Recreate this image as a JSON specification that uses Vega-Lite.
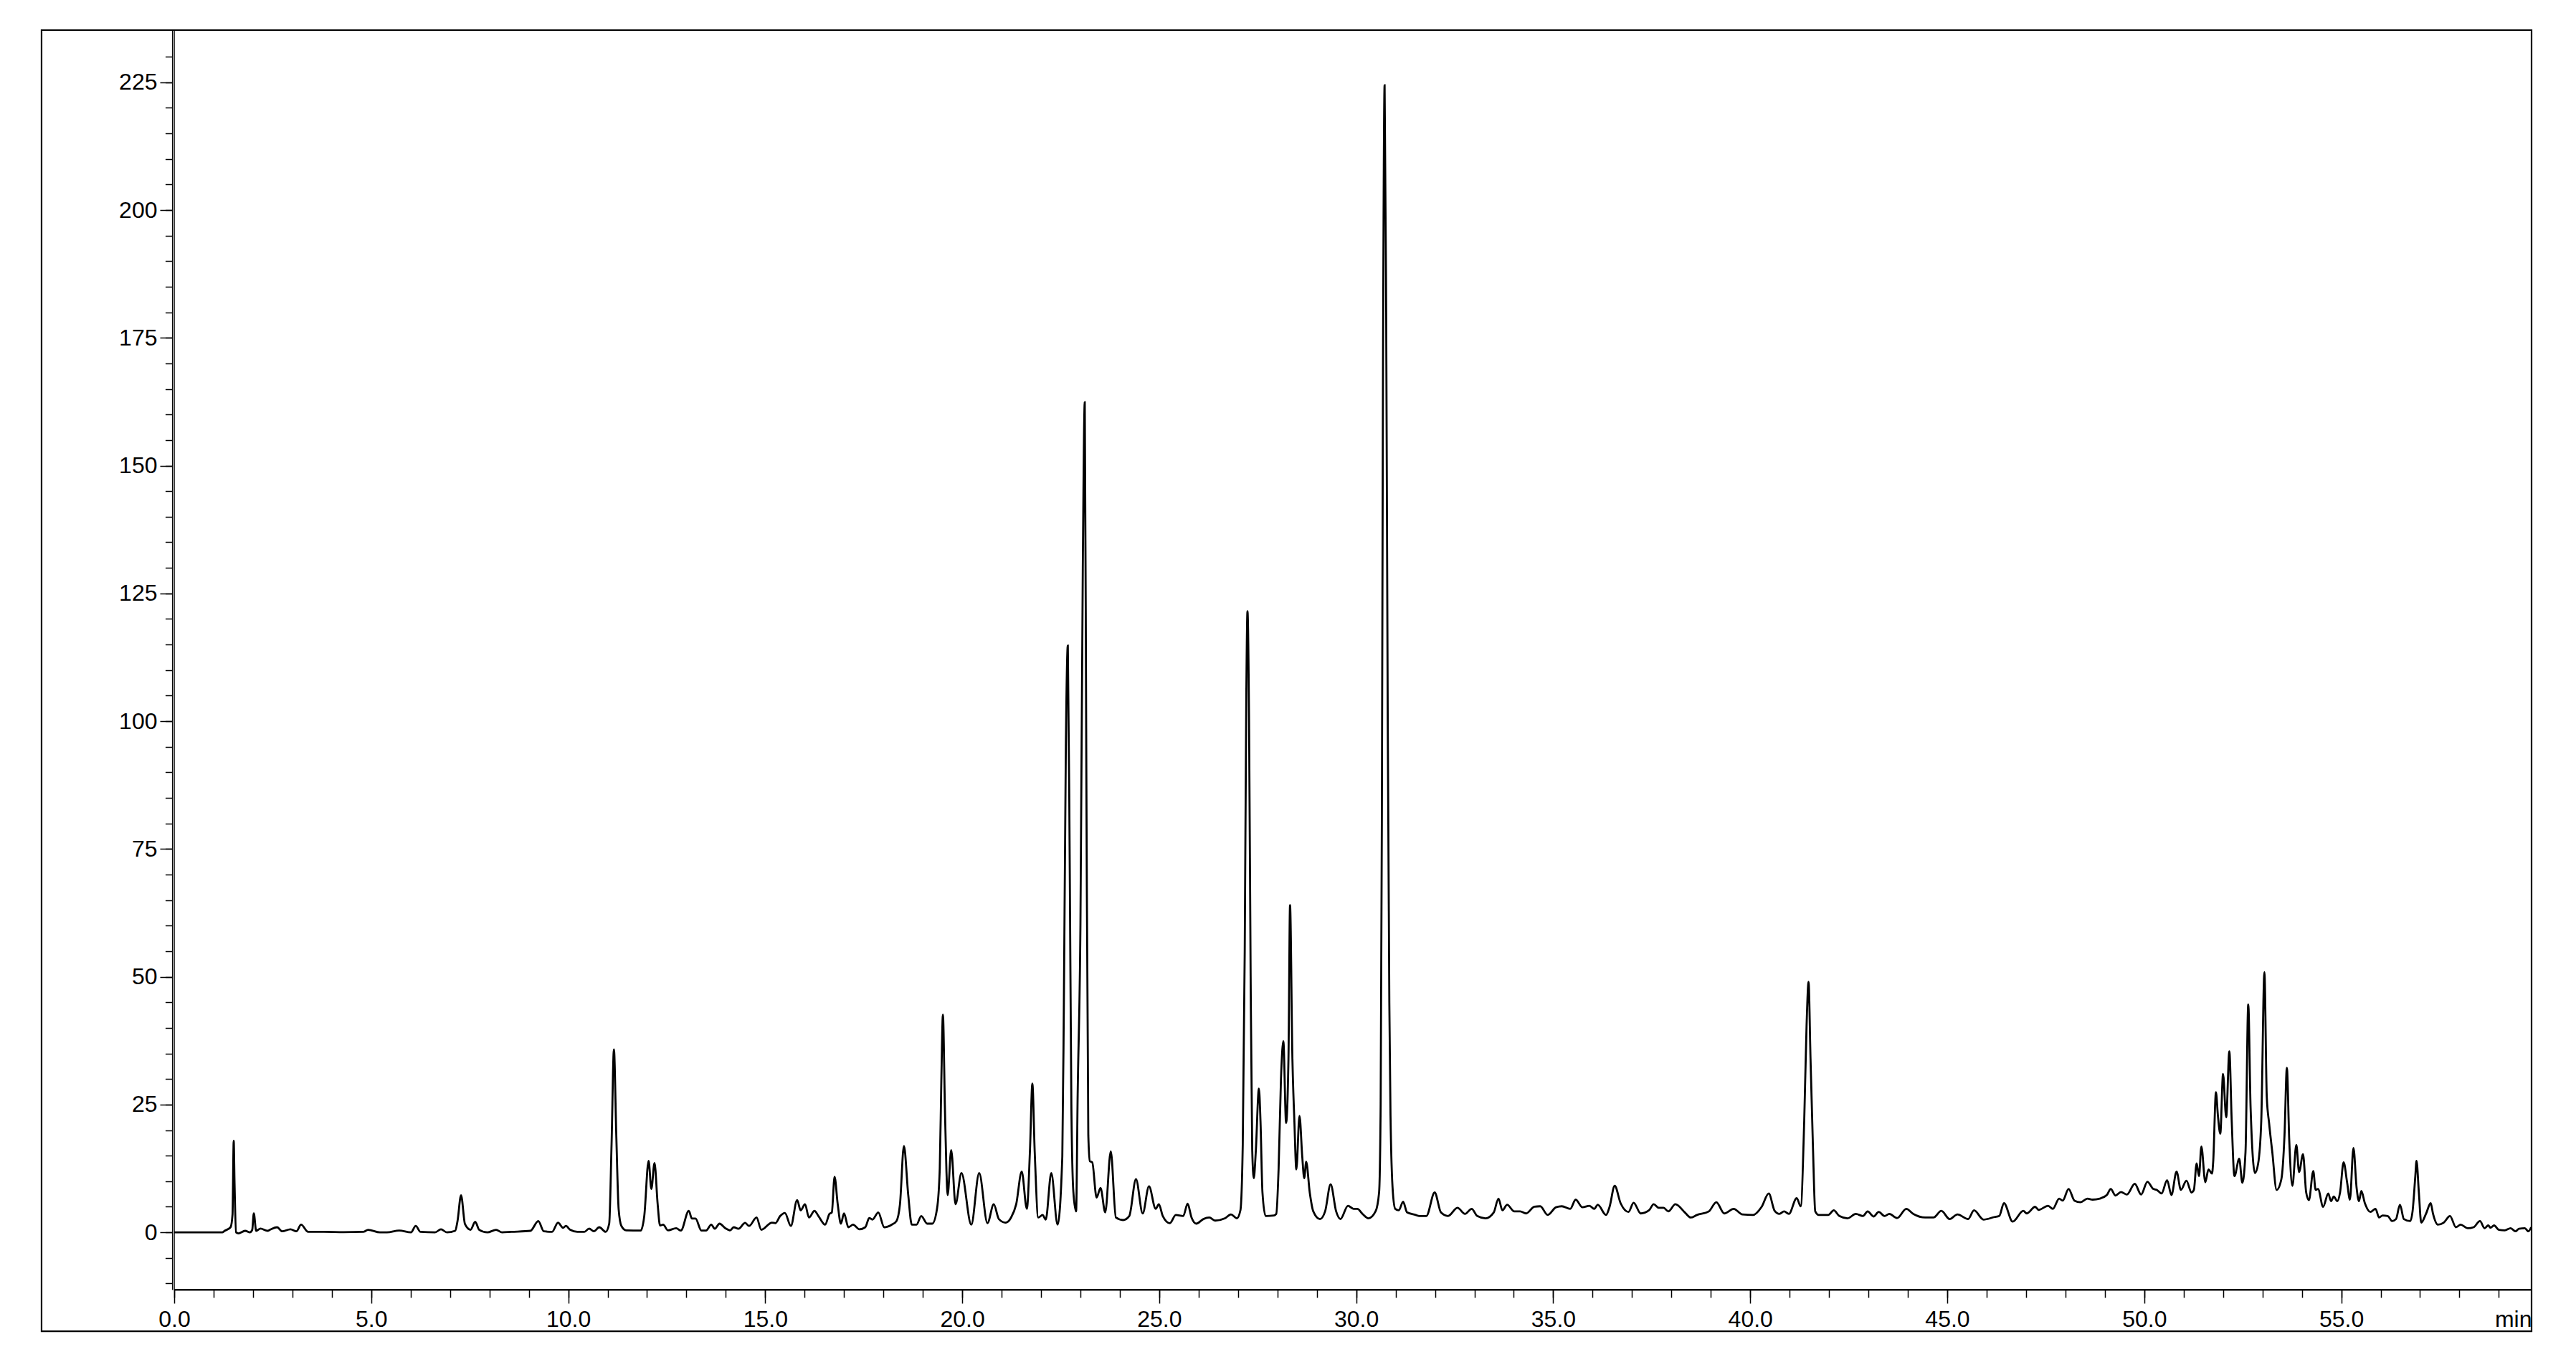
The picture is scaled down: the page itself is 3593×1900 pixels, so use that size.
{
  "$schema": "https://vega.github.io/schema/vega-lite/v6.json",
  "autosize": {"type": "none"},
  "width": 3288,
  "height": 1757,
  "padding": {"left": 243, "top": 42, "right": 62, "bottom": 101},
  "background": "white",
  "config": {
    "view": {"stroke": "black", "strokeWidth": 1.5},
    "axis": {"labelFont": "Liberation Sans", "titleFont": "Liberation Sans", "labelColor": "black", "tickColor": "black", "domainColor": "black", "grid": false, "labelFlush": false, "labelOverlap": false}
  },
  "resolve": {"axis": {"x": "independent", "y": "independent"}},
  "layer": [
    {
      "data": {"values": [{"frame": "outer"}]},
      "mark": {"type": "rect", "fillOpacity": 0, "stroke": "black", "strokeWidth": 2.2, "clip": false},
      "encoding": {
        "x": {"datum": -3.367, "type": "quantitative", "scale": {"domain": [0, 59.83], "nice": false, "zero": false},
          "axis": {"orient": "bottom", "values": [0,1,2,3,4,5,6,7,8,9,10,11,12,13,14,15,16,17,18,19,20,21,22,23,24,25,26,27,28,29,30,31,32,33,34,35,36,37,38,39,40,41,42,43,44,45,46,47,48,49,50,51,52,53,54,55,56,57,58,59], "labels": false, "domain": false, "tickSize": 11, "tickWidth": 1.5, "title": null}},
        "x2": {"datum": 59.83},
        "y": {"datum": -19.35, "type": "quantitative", "scale": {"domain": [-11.2, 235.2], "nice": false, "zero": false},
          "axis": {"orient": "left", "offset": 3, "values": [-10,-5,0,5,10,15,20,25,30,35,40,45,50,55,60,65,70,75,80,85,90,95,100,105,110,115,120,125,130,135,140,145,150,155,160,165,170,175,180,185,190,195,200,205,210,215,220,225,230], "labels": false, "domain": false, "tickSize": 9.6, "tickWidth": 1.5, "title": null}},
        "y2": {"datum": 235.2}
      }
    },
    {
      "data": {"values": [
{"t":0.00,"v":0},{"t":0.50,"v":0},{"t":1.00,"v":0},{"t":1.22,"v":0},{"t":1.28,"v":0.3},{"t":1.43,"v":1.0},{"t":1.48,"v":3.5},{"t":1.51,"v":17.9},{"t":1.53,"v":10},{"t":1.57,"v":0},{"t":1.63,"v":-0.2},{"t":1.80,"v":0.3},{"t":1.92,"v":0},{"t":1.98,"v":0.5},{"t":2.02,"v":3.7},{"t":2.08,"v":0.3},{"t":2.19,"v":0.75},{"t":2.37,"v":0.3},{"t":2.43,"v":0.5},{"t":2.61,"v":1.0},{"t":2.74,"v":0.2},{"t":2.95,"v":0.6},{"t":3.10,"v":0.2},{"t":3.22,"v":1.5},{"t":3.40,"v":0.1},{"t":3.80,"v":0.1},{"t":4.30,"v":0.05},{"t":4.80,"v":0.1},{"t":4.92,"v":0.5},{"t":5.22,"v":0},{"t":5.40,"v":0},{"t":5.71,"v":0.35},{"t":6.01,"v":0},{"t":6.13,"v":1.25},{"t":6.25,"v":0.1},{"t":6.62,"v":0},{"t":6.77,"v":0.6},{"t":6.92,"v":0},{"t":7.13,"v":0.3},{"t":7.19,"v":2.2},{"t":7.28,"v":7.25},{"t":7.38,"v":1.6},{"t":7.52,"v":0.5},{"t":7.64,"v":2.06},{"t":7.74,"v":0.5},{"t":7.95,"v":0},{"t":8.17,"v":0.5},{"t":8.32,"v":0},{"t":8.56,"v":0.1},{"t":9.04,"v":0.3},{"t":9.24,"v":2.2},{"t":9.38,"v":0.2},{"t":9.59,"v":0.1},{"t":9.74,"v":1.9},{"t":9.87,"v":0.9},{"t":9.94,"v":1.25},{"t":10.05,"v":0.5},{"t":10.23,"v":0.1},{"t":10.41,"v":0.1},{"t":10.53,"v":0.75},{"t":10.65,"v":0.2},{"t":10.79,"v":1.0},{"t":10.95,"v":0.1},{"t":11.04,"v":1.7},{"t":11.10,"v":17.2},{"t":11.16,"v":35.8},{"t":11.22,"v":19.0},{"t":11.28,"v":4.5},{"t":11.35,"v":1.25},{"t":11.47,"v":0.4},{"t":11.84,"v":0.35},{"t":11.93,"v":3.2},{"t":12.04,"v":14.0},{"t":12.11,"v":8.5},{"t":12.19,"v":13.55},{"t":12.27,"v":5.5},{"t":12.33,"v":1.35},{"t":12.41,"v":1.5},{"t":12.53,"v":0.4},{"t":12.74,"v":0.8},{"t":12.86,"v":0.35},{"t":13.06,"v":4.2},{"t":13.14,"v":2.7},{"t":13.23,"v":2.7},{"t":13.38,"v":0.35},{"t":13.50,"v":0.35},{"t":13.63,"v":1.5},{"t":13.72,"v":0.7},{"t":13.84,"v":1.7},{"t":13.99,"v":0.8},{"t":14.11,"v":0.4},{"t":14.20,"v":1.0},{"t":14.32,"v":0.7},{"t":14.49,"v":1.85},{"t":14.59,"v":1.25},{"t":14.78,"v":2.9},{"t":14.90,"v":0.5},{"t":15.17,"v":1.9},{"t":15.26,"v":1.8},{"t":15.38,"v":3.2},{"t":15.50,"v":3.8},{"t":15.65,"v":1.25},{"t":15.81,"v":6.3},{"t":15.90,"v":4.3},{"t":16.01,"v":5.5},{"t":16.11,"v":2.9},{"t":16.25,"v":4.2},{"t":16.35,"v":3.2},{"t":16.52,"v":1.5},{"t":16.63,"v":3.6},{"t":16.69,"v":3.9},{"t":16.76,"v":10.85},{"t":16.84,"v":5.5},{"t":16.92,"v":1.7},{"t":17.00,"v":3.7},{"t":17.11,"v":1.0},{"t":17.23,"v":1.5},{"t":17.39,"v":0.6},{"t":17.54,"v":1.0},{"t":17.64,"v":2.8},{"t":17.72,"v":2.5},{"t":17.87,"v":3.9},{"t":18.02,"v":1.0},{"t":18.21,"v":1.5},{"t":18.33,"v":2.2},{"t":18.42,"v":5.5},{"t":18.52,"v":16.9},{"t":18.63,"v":7.3},{"t":18.72,"v":1.5},{"t":18.84,"v":1.5},{"t":18.96,"v":3.2},{"t":19.11,"v":1.7},{"t":19.24,"v":1.7},{"t":19.36,"v":4.6},{"t":19.43,"v":12.5},{"t":19.47,"v":29.8},{"t":19.51,"v":42.6},{"t":19.56,"v":24.6},{"t":19.60,"v":11.8},{"t":19.63,"v":7.3},{"t":19.72,"v":16.1},{"t":19.83,"v":5.5},{"t":19.98,"v":11.6},{"t":20.23,"v":1.5},{"t":20.43,"v":11.6},{"t":20.64,"v":1.8},{"t":20.80,"v":5.5},{"t":20.93,"v":2.6},{"t":21.10,"v":1.9},{"t":21.24,"v":2.9},{"t":21.37,"v":5.5},{"t":21.51,"v":11.9},{"t":21.64,"v":4.6},{"t":21.72,"v":16.2},{"t":21.78,"v":29.1},{"t":21.84,"v":15.7},{"t":21.93,"v":2.9},{"t":22.04,"v":3.4},{"t":22.12,"v":2.5},{"t":22.26,"v":11.6},{"t":22.42,"v":1.5},{"t":22.54,"v":14.8},{"t":22.58,"v":45},{"t":22.63,"v":95},{"t":22.68,"v":114.8},{"t":22.73,"v":70},{"t":22.77,"v":25},{"t":22.82,"v":8},{"t":22.89,"v":4.1},{"t":22.93,"v":27},{"t":23.00,"v":60},{"t":23.06,"v":130},{"t":23.11,"v":162.4},{"t":23.15,"v":90},{"t":23.20,"v":19},{"t":23.24,"v":13.9},{"t":23.30,"v":13.7},{"t":23.41,"v":6.8},{"t":23.51,"v":8.7},{"t":23.63,"v":3.9},{"t":23.77,"v":15.85},{"t":23.90,"v":2.9},{"t":24.08,"v":2.4},{"t":24.24,"v":3.2},{"t":24.41,"v":10.4},{"t":24.58,"v":3.7},{"t":24.74,"v":9.0},{"t":24.91,"v":4.6},{"t":24.99,"v":5.5},{"t":25.09,"v":3.2},{"t":25.27,"v":1.8},{"t":25.42,"v":3.4},{"t":25.61,"v":3.2},{"t":25.72,"v":5.6},{"t":25.82,"v":2.9},{"t":25.94,"v":1.7},{"t":26.12,"v":2.6},{"t":26.27,"v":2.9},{"t":26.42,"v":2.3},{"t":26.67,"v":2.75},{"t":26.82,"v":3.5},{"t":26.97,"v":2.75},{"t":27.06,"v":4.3},{"t":27.12,"v":17.2},{"t":27.17,"v":55},{"t":27.21,"v":105},{"t":27.24,"v":121.5},{"t":27.28,"v":100},{"t":27.32,"v":50},{"t":27.36,"v":16.2},{"t":27.40,"v":10.6},{"t":27.45,"v":15.7},{"t":27.53,"v":28.1},{"t":27.57,"v":21.8},{"t":27.62,"v":7.8},{"t":27.70,"v":3.2},{"t":27.91,"v":3.3},{"t":27.97,"v":3.6},{"t":28.03,"v":12.5},{"t":28.09,"v":30},{"t":28.15,"v":37.4},{"t":28.22,"v":21.4},{"t":28.28,"v":34},{"t":28.32,"v":64},{"t":28.38,"v":34},{"t":28.43,"v":21.8},{"t":28.48,"v":12.3},{"t":28.56,"v":22.8},{"t":28.63,"v":14.8},{"t":28.68,"v":10.6},{"t":28.73,"v":13.8},{"t":28.82,"v":7.8},{"t":28.91,"v":4.1},{"t":29.08,"v":2.6},{"t":29.21,"v":4.1},{"t":29.35,"v":9.4},{"t":29.49,"v":4.1},{"t":29.60,"v":2.6},{"t":29.79,"v":5.2},{"t":29.93,"v":4.6},{"t":30.03,"v":4.6},{"t":30.16,"v":3.6},{"t":30.31,"v":2.75},{"t":30.49,"v":4.1},{"t":30.58,"v":7.8},{"t":30.62,"v":25},{"t":30.65,"v":80},{"t":30.68,"v":170},{"t":30.72,"v":224.4},{"t":30.76,"v":180},{"t":30.80,"v":100},{"t":30.84,"v":45},{"t":30.87,"v":22.8},{"t":30.93,"v":7.8},{"t":30.99,"v":4.6},{"t":31.08,"v":4.3},{"t":31.19,"v":6.0},{"t":31.29,"v":3.9},{"t":31.51,"v":3.4},{"t":31.60,"v":3.2},{"t":31.78,"v":3.2},{"t":31.99,"v":7.8},{"t":32.15,"v":3.9},{"t":32.33,"v":3.2},{"t":32.57,"v":4.8},{"t":32.76,"v":3.6},{"t":32.93,"v":4.6},{"t":33.07,"v":3.2},{"t":33.28,"v":2.75},{"t":33.49,"v":3.9},{"t":33.61,"v":6.6},{"t":33.71,"v":4.3},{"t":33.83,"v":5.4},{"t":34.01,"v":4.1},{"t":34.16,"v":4.1},{"t":34.31,"v":3.7},{"t":34.52,"v":5.0},{"t":34.67,"v":5.1},{"t":34.86,"v":3.4},{"t":35.07,"v":4.9},{"t":35.22,"v":5.1},{"t":35.43,"v":4.6},{"t":35.57,"v":6.4},{"t":35.74,"v":4.9},{"t":35.92,"v":5.2},{"t":36.04,"v":4.6},{"t":36.13,"v":5.4},{"t":36.34,"v":3.4},{"t":36.43,"v":5.0},{"t":36.56,"v":9.1},{"t":36.71,"v":5.7},{"t":36.91,"v":4.0},{"t":37.04,"v":5.8},{"t":37.22,"v":3.7},{"t":37.43,"v":4.3},{"t":37.55,"v":5.5},{"t":37.68,"v":4.8},{"t":37.80,"v":4.8},{"t":37.92,"v":4.1},{"t":38.10,"v":5.5},{"t":38.34,"v":3.9},{"t":38.49,"v":2.9},{"t":38.65,"v":3.4},{"t":38.95,"v":4.1},{"t":39.14,"v":5.9},{"t":39.34,"v":3.7},{"t":39.58,"v":4.6},{"t":39.80,"v":3.5},{"t":40.07,"v":3.4},{"t":40.29,"v":5.0},{"t":40.47,"v":7.6},{"t":40.62,"v":4.2},{"t":40.74,"v":3.6},{"t":40.86,"v":4.1},{"t":40.98,"v":3.6},{"t":41.18,"v":6.7},{"t":41.28,"v":5.1},{"t":41.37,"v":21.8},{"t":41.43,"v":40.5},{"t":41.48,"v":49.0},{"t":41.53,"v":34},{"t":41.59,"v":17.2},{"t":41.65,"v":4.1},{"t":41.74,"v":3.4},{"t":41.98,"v":3.4},{"t":42.12,"v":4.3},{"t":42.26,"v":3.2},{"t":42.47,"v":2.75},{"t":42.68,"v":3.6},{"t":42.86,"v":3.2},{"t":42.98,"v":4.1},{"t":43.13,"v":3.1},{"t":43.26,"v":4.0},{"t":43.41,"v":3.2},{"t":43.53,"v":3.6},{"t":43.73,"v":2.8},{"t":43.96,"v":4.6},{"t":44.14,"v":3.6},{"t":44.44,"v":2.9},{"t":44.65,"v":2.9},{"t":44.85,"v":4.2},{"t":45.06,"v":2.6},{"t":45.26,"v":3.5},{"t":45.53,"v":2.6},{"t":45.68,"v":4.3},{"t":45.92,"v":2.5},{"t":46.20,"v":3.0},{"t":46.32,"v":3.2},{"t":46.44,"v":5.7},{"t":46.66,"v":2.1},{"t":46.93,"v":4.2},{"t":47.02,"v":3.7},{"t":47.23,"v":5.0},{"t":47.32,"v":4.4},{"t":47.56,"v":5.2},{"t":47.68,"v":4.6},{"t":47.84,"v":6.6},{"t":47.93,"v":6.2},{"t":48.08,"v":8.5},{"t":48.23,"v":6.2},{"t":48.38,"v":5.9},{"t":48.56,"v":6.6},{"t":48.69,"v":6.4},{"t":48.87,"v":6.6},{"t":49.05,"v":7.3},{"t":49.15,"v":8.5},{"t":49.27,"v":7.2},{"t":49.41,"v":7.9},{"t":49.56,"v":7.4},{"t":49.76,"v":9.5},{"t":49.92,"v":7.4},{"t":50.08,"v":9.9},{"t":50.23,"v":8.5},{"t":50.32,"v":8.3},{"t":50.44,"v":7.6},{"t":50.58,"v":10.2},{"t":50.69,"v":7.3},{"t":50.82,"v":11.9},{"t":50.93,"v":8.3},{"t":51.07,"v":10.1},{"t":51.20,"v":7.8},{"t":51.26,"v":8.3},{"t":51.33,"v":13.5},{"t":51.39,"v":11.0},{"t":51.45,"v":16.8},{"t":51.55,"v":9.8},{"t":51.63,"v":12.3},{"t":51.72,"v":11.5},{"t":51.75,"v":13.8},{"t":51.82,"v":27.4},{"t":51.87,"v":22.8},{"t":51.93,"v":19.3},{"t":52.00,"v":31.0},{"t":52.08,"v":22.5},{"t":52.16,"v":35.4},{"t":52.22,"v":21.8},{"t":52.29,"v":11.0},{"t":52.41,"v":14.4},{"t":52.49,"v":9.7},{"t":52.57,"v":15.7},{"t":52.64,"v":44.6},{"t":52.70,"v":24.2},{"t":52.81,"v":11.6},{"t":52.89,"v":13.4},{"t":52.97,"v":21.8},{"t":53.05,"v":50.9},{"t":53.11,"v":26.5},{"t":53.17,"v":21.3},{"t":53.25,"v":15.7},{"t":53.36,"v":8.3},{"t":53.48,"v":10.4},{"t":53.56,"v":19.0},{"t":53.62,"v":32.2},{"t":53.68,"v":18.1},{"t":53.76,"v":9.1},{"t":53.86,"v":17.1},{"t":53.93,"v":11.8},{"t":54.03,"v":15.3},{"t":54.11,"v":7.8},{"t":54.18,"v":6.3},{"t":54.29,"v":12.0},{"t":54.35,"v":8.3},{"t":54.41,"v":8.5},{"t":54.54,"v":5.0},{"t":54.67,"v":7.6},{"t":54.74,"v":6.1},{"t":54.81,"v":7.0},{"t":54.90,"v":6.1},{"t":54.97,"v":7.8},{"t":55.06,"v":13.7},{"t":55.15,"v":9.7},{"t":55.22,"v":6.4},{"t":55.31,"v":16.5},{"t":55.39,"v":8.7},{"t":55.45,"v":6.1},{"t":55.51,"v":8.1},{"t":55.60,"v":5.7},{"t":55.74,"v":4.0},{"t":55.87,"v":4.6},{"t":55.96,"v":2.9},{"t":56.05,"v":3.3},{"t":56.18,"v":3.2},{"t":56.29,"v":2.2},{"t":56.39,"v":2.6},{"t":56.49,"v":5.4},{"t":56.59,"v":2.6},{"t":56.75,"v":2.2},{"t":56.81,"v":4.1},{"t":56.88,"v":11.0},{"t":56.91,"v":14.0},{"t":56.97,"v":7.8},{"t":57.03,"v":1.9},{"t":57.15,"v":3.6},{"t":57.27,"v":5.7},{"t":57.33,"v":3.6},{"t":57.45,"v":1.5},{"t":57.60,"v":1.9},{"t":57.76,"v":3.2},{"t":57.91,"v":1.0},{"t":58.03,"v":1.5},{"t":58.21,"v":0.8},{"t":58.36,"v":1.0},{"t":58.52,"v":2.2},{"t":58.64,"v":0.8},{"t":58.73,"v":1.35},{"t":58.79,"v":0.9},{"t":58.88,"v":1.35},{"t":59.00,"v":0.5},{"t":59.15,"v":0.4},{"t":59.30,"v":0.8},{"t":59.42,"v":0.2},{"t":59.51,"v":0.7},{"t":59.66,"v":0.8},{"t":59.75,"v":0.2},{"t":59.82,"v":1.0}
      ]},
      "mark": {"type": "line", "color": "black", "strokeWidth": 2.8, "interpolate": "monotone", "clip": true},
      "encoding": {
        "x": {"field": "t", "type": "quantitative", "scale": {"domain": [0, 59.83], "nice": false, "zero": false},
          "axis": {"orient": "bottom", "values": [0,5,10,15,20,25,30,35,40,45,50,55], "format": ".1f", "labelFontSize": 32, "labelPadding": 7, "tickSize": 19, "tickWidth": 1.5, "domain": true, "domainWidth": 2, "title": "min", "titleFontSize": 32, "titleFontWeight": "normal", "titleColor": "black", "titleAnchor": "end", "titleAlign": "right", "titleBaseline": "alphabetic", "titleY": 51}},
        "y": {"field": "v", "type": "quantitative", "scale": {"domain": [-11.2, 235.2], "nice": false, "zero": false},
          "axis": {"orient": "left", "offset": 3, "values": [0,25,50,75,100,125,150,175,200,225], "format": "d", "labelFontSize": 32, "labelPadding": 4, "labelBaseline": "middle", "tickSize": 17, "tickWidth": 1.5, "domain": true, "domainWidth": 1.2, "title": null}}
      }
    }
  ]
}
